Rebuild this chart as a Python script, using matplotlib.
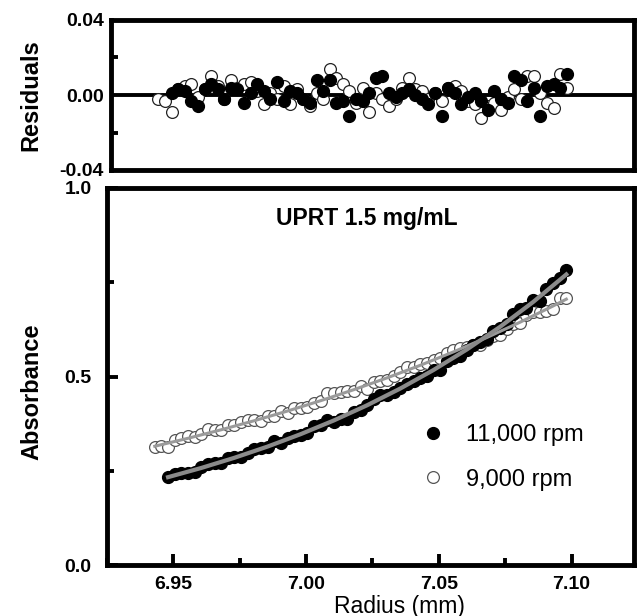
import matplotlib
matplotlib.use('Agg')
import matplotlib.pyplot as plt
from matplotlib.ticker import MultipleLocator

plt.rcParams['font.family'] = ['Liberation Sans', 'DejaVu Sans']

# 11,000 rpm (filled)
r_11k = [6.948, 6.9505, 6.953, 6.9555, 6.958, 6.9605, 6.963, 6.9655, 6.968, 6.9705,
         6.973, 6.9755, 6.978, 6.9805, 6.983, 6.9855, 6.988, 6.9905, 6.993, 6.9955,
         6.998, 7.0005, 7.003, 7.0055, 7.008, 7.0105, 7.013, 7.0155, 7.018, 7.0205,
         7.023, 7.0255, 7.028, 7.0305, 7.033, 7.0355, 7.038, 7.0405, 7.043, 7.0455,
         7.048, 7.0505, 7.053, 7.0555, 7.058, 7.0605, 7.063, 7.0655, 7.068, 7.0705,
         7.073, 7.0755, 7.078, 7.0805, 7.083, 7.0855, 7.088, 7.0905, 7.093, 7.0955,
         7.098]
abs_11k = [0.234, 0.241, 0.245, 0.244, 0.246, 0.260, 0.269, 0.271, 0.271, 0.283,
           0.287, 0.286, 0.297, 0.308, 0.310, 0.312, 0.328, 0.324, 0.336, 0.341,
           0.345, 0.350, 0.369, 0.371, 0.384, 0.380, 0.388, 0.388, 0.405, 0.412,
           0.425, 0.441, 0.451, 0.451, 0.458, 0.469, 0.481, 0.487, 0.495, 0.502,
           0.518, 0.517, 0.542, 0.550, 0.555, 0.571, 0.584, 0.592, 0.599, 0.621,
           0.629, 0.640, 0.667, 0.678, 0.681, 0.702, 0.701, 0.731, 0.747, 0.760,
           0.782]
res_11k = [0.001, 0.003, 0.002, -0.003, -0.006, 0.003, 0.006, 0.003, -0.002, 0.004,
           0.003, -0.004, 0.001, 0.006, 0.002, -0.002, 0.007, -0.003, 0.002, 0.001,
           -0.002, -0.004, 0.008, 0.002, 0.008, -0.004, -0.003, -0.011, -0.002, -0.003,
           0.001, 0.009, 0.010, 0.001, -0.001, 0.001, 0.003, 0.000, -0.002, -0.005,
           0.001, -0.011, 0.004, 0.001, -0.005, -0.001, 0.001, -0.003, -0.008, 0.002,
           -0.002, -0.004, 0.010, 0.008, -0.003, 0.004, -0.011, 0.005, 0.006, 0.004,
           0.011]
fit_r_11k = [6.948, 6.9605, 6.973, 6.9855, 6.998, 7.0105, 7.023, 7.0355, 7.048,
             7.0605, 7.073, 7.0855, 7.098]
fit_11k = [0.233, 0.2574, 0.2844, 0.3142, 0.3472, 0.3836, 0.4238, 0.4682, 0.5173,
           0.5715, 0.6314, 0.6976, 0.7707]

# 9,000 rpm (open)
r_9k = [6.943, 6.9455, 6.948, 6.9505, 6.953, 6.9555, 6.958, 6.9605, 6.963, 6.9655,
        6.968, 6.9705, 6.973, 6.9755, 6.978, 6.9805, 6.983, 6.9855, 6.988, 6.9905,
        6.993, 6.9955, 6.998, 7.0005, 7.003, 7.0055, 7.008, 7.0105, 7.013, 7.0155,
        7.018, 7.0205, 7.023, 7.0255, 7.028, 7.0305, 7.033, 7.0355, 7.038, 7.0405,
        7.043, 7.0455, 7.048, 7.0505, 7.053, 7.0555, 7.058, 7.0605, 7.063, 7.0655,
        7.068, 7.0705, 7.073, 7.0755, 7.078, 7.0805, 7.083, 7.0855, 7.088, 7.0905,
        7.093, 7.0955, 7.098]
abs_9k = [0.313, 0.316, 0.314, 0.331, 0.337, 0.342, 0.340, 0.348, 0.360, 0.359,
          0.357, 0.371, 0.372, 0.379, 0.385, 0.385, 0.383, 0.394, 0.396, 0.408,
          0.403, 0.417, 0.417, 0.419, 0.431, 0.434, 0.456, 0.456, 0.459, 0.461,
          0.461, 0.475, 0.468, 0.485, 0.488, 0.490, 0.501, 0.513, 0.525, 0.526,
          0.532, 0.535, 0.545, 0.548, 0.562, 0.570, 0.575, 0.577, 0.583, 0.583,
          0.597, 0.607, 0.611, 0.626, 0.638, 0.642, 0.662, 0.671, 0.670, 0.674,
          0.680, 0.707, 0.709]
res_9k = [-0.002, -0.003, -0.009, 0.003, 0.005, 0.006, -0.001, 0.003, 0.010, 0.005,
          -0.002, 0.008, 0.004, 0.006, 0.007, 0.002, -0.005, 0.001, -0.002, 0.005,
          -0.005, 0.003, -0.002, -0.006, 0.001, -0.002, 0.014, 0.009, 0.006, 0.002,
          -0.004, 0.004, -0.009, 0.001, -0.002, -0.006, -0.002, 0.004, 0.009, 0.003,
          0.002, -0.002, 0.001, -0.003, 0.004, 0.005, 0.002, -0.003, -0.005, -0.012,
          -0.006, -0.004, -0.008, -0.001, 0.003, -0.002, 0.010, 0.010, 0.001, -0.004,
          -0.007, 0.011, 0.004]
fit_r_9k = [6.943, 6.9555, 6.968, 6.9805, 6.993, 7.0055, 7.018, 7.0305, 7.043,
            7.0555, 7.068, 7.0805, 7.093, 7.098]
fit_9k = [0.315, 0.3361, 0.3587, 0.3828, 0.4084, 0.4359, 0.4651, 0.4964, 0.5297,
          0.5653, 0.6032, 0.6437, 0.6870, 0.7051]

W, H = 638, 616
fig = plt.figure(figsize=(W / 100, H / 100), dpi=100)

def box(l, t, r, b):
    return [l / W, 1 - b / H, (r - l) / W, (b - t) / H]

ax_r = fig.add_axes(box(111, 20, 634, 170))
ax = fig.add_axes(box(107, 188, 634, 565))

xlim = (6.925, 7.1235)
ms = 8.5

# residuals panel
ax_r.axhline(0, color='black', lw=2.8, zorder=1)
ax_r.plot(r_9k, res_9k, 'o', ms=ms, mfc='white', mec='#222222', mew=0.9, zorder=2)
ax_r.plot(r_11k, res_11k, 'o', ms=ms, mfc='black', mec='black', zorder=3)
ax_r.set_xlim(xlim)
ax_r.set_ylim(-0.04, 0.04)
ax_r.set_yticks([-0.04, 0.00, 0.04])
ax_r.yaxis.set_minor_locator(MultipleLocator(0.02))
ax_r.set_yticklabels(['-0.04', '0.00', '0.04'])
ax_r.set_xticks([])
ax_r.tick_params(axis='y', which='both', direction='in', width=2.8, labelsize=14, pad=5)
ax_r.tick_params(axis='y', which='major', length=0)
ax_r.tick_params(axis='y', which='minor', length=5)
for t in ax_r.get_yticklabels():
    t.set_fontweight('bold')

# absorbance panel
ax.plot(r_9k, abs_9k, 'o', ms=ms, mfc='white', mec='#555555', mew=0.9, zorder=2,
        label='9,000 rpm')
ax.plot(r_11k, abs_11k, 'o', ms=ms, mfc='black', mec='black', zorder=3,
        label='11,000 rpm')
ax.plot(fit_r_9k, fit_9k, '-', color='#9a9a9a', lw=2.2, zorder=4)
ax.plot(fit_r_11k, fit_11k, '-', color='#8a8a8a', lw=3.0, zorder=4)
ax.set_xlim(xlim)
ax.set_ylim(0, 1.0)
ax.set_xticks([6.95, 7.00, 7.05, 7.10])
ax.set_xticklabels(['6.95', '7.00', '7.05', '7.10'])
ax.xaxis.set_minor_locator(MultipleLocator(0.025))
ax.set_yticks([0.0, 0.5, 1.0])
ax.set_yticklabels(['0.0', '0.5', '1.0'])
ax.yaxis.set_minor_locator(MultipleLocator(0.25))
ax.tick_params(which='both', direction='in', width=2.8, labelsize=14)
ax.tick_params(which='major', length=8)
ax.tick_params(which='minor', length=5)
ax.tick_params(axis='y', pad=11)
ax.tick_params(axis='x', pad=8)
for t in ax.get_xticklabels() + ax.get_yticklabels():
    t.set_fontweight('bold')

for a in (ax_r, ax):
    for s in a.spines.values():
        s.set_linewidth(3.5)

ax.text(7.0227, 0.92, 'UPRT 1.5 mg/mL', ha='center', va='center',
        fontsize=16.5, fontweight='bold')

handles, labels = ax.get_legend_handles_labels()
ax.legend(handles[::-1], labels[::-1], loc='center left',
          bbox_to_anchor=((422 - 107) / 527, (565 - 457.5) / 377),
          frameon=False, fontsize=17, handlelength=0.9, handletextpad=0.95,
          labelspacing=0.95, borderpad=0, borderaxespad=0)

fig.text(399 / W, 1 - 606 / H, 'Radius (mm)', ha='center', va='center', fontsize=16.5)
fig.text(31 / W, 1 - 95 / H, 'Residuals', ha='center', va='center', rotation=90,
         fontsize=17, fontweight='bold')
fig.text(32 / W, 1 - 392 / H, 'Absorbance', ha='center', va='center', rotation=90,
         fontsize=17, fontweight='bold')

fig.savefig('out.png', dpi=100)
